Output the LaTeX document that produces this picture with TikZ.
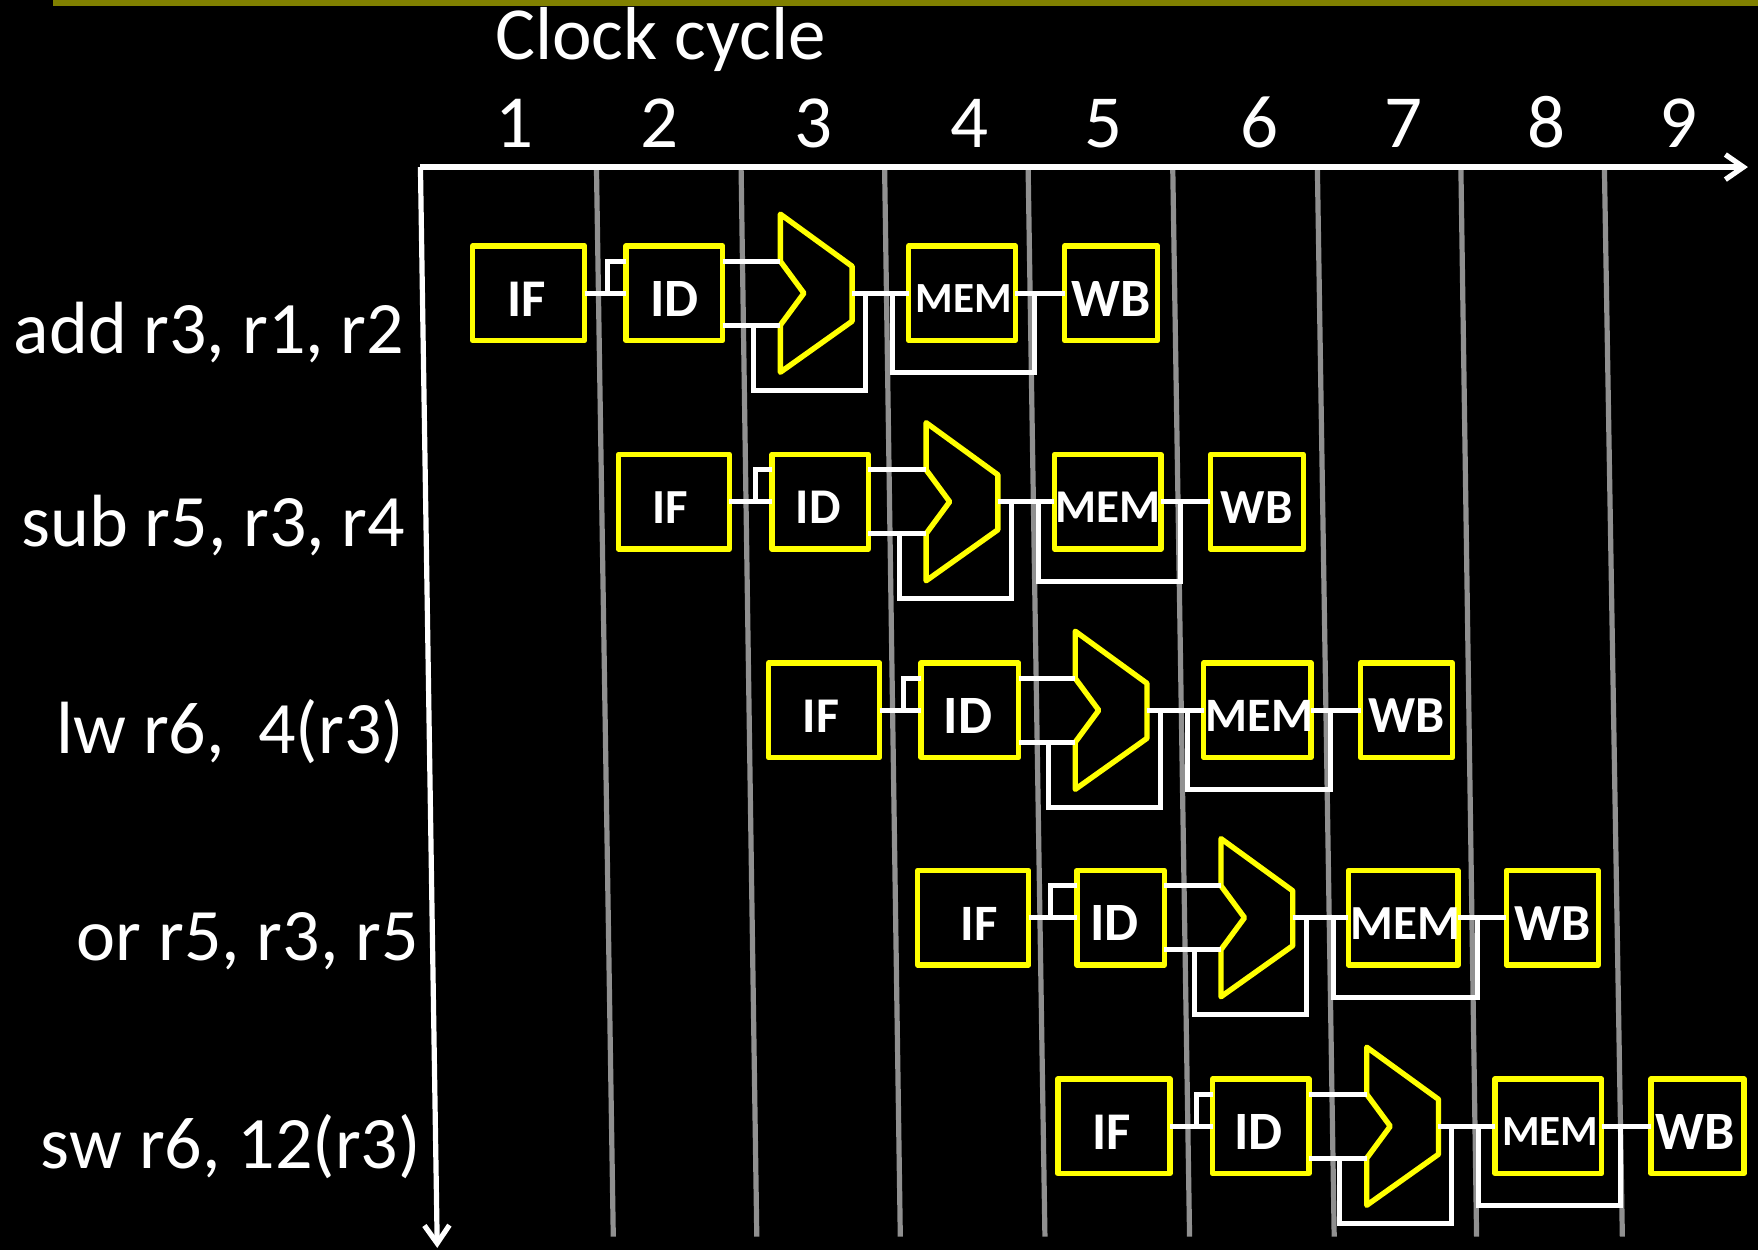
\documentclass[tikz,border=0pt]{standalone}
\usepackage{fontspec}
\setmainfont{Carlito}
\usetikzlibrary{arrows.meta,calc}
\definecolor{olivebar}{HTML}{808000}
\definecolor{gridgrey}{HTML}{909090}
\definecolor{pipeyellow}{HTML}{FFFF00}
\tikzset{
  stage/.style={draw=pipeyellow,line width=5.4pt,text=white,inner sep=0pt,outer sep=0pt,line join=round,font=\bfseries,minimum height=94.5pt},
  wire/.style={draw=white,line width=5pt,line join=miter},
  gridline/.style={draw=gridgrey,line width=5.2pt},
  axisline/.style={draw=white,line width=5.2pt,-{Straight Barb[length=18pt,width=25pt,line width=5.2pt]}},
  alushape/.style={draw=pipeyellow,line width=5.4pt,line join=round},
  bigtext/.style={text=white,font=\fontsize{75}{75}\selectfont,inner sep=0pt,anchor=base},
  instr/.style={text=white,font=\fontsize{74}{74}\selectfont,inner sep=0pt,anchor=base east},
}
\newcommand{\stagebox}[7]{%
  \node[stage,minimum width={(#3-#2-3)*1.1212pt}] (#1) at ({(#2+#3)/2},#4)
    {\fontsize{#6}{#6}\selectfont\raisebox{\dimexpr-0.32em-6pt\relax}[0pt][0pt]{\kern#5pt #7\kern-#5pt}};}
\begin{document}
\begin{tikzpicture}[x=1.1212pt,y=-1.1212pt]
\useasboundingbox[fill=black] (0,0) rectangle (1568,1115);
\fill[olivebar] (47,0) rectangle (1568,5.5);
% grid
\foreach \a/\b in {532/547,661/675,789/803,917/932,1046/1061,1175/1190,1303/1317,1431/1447}
  \draw[gridline] (\a,150) -- (\b,1103);
% axes
\coordinate (origin) at (375,149);
\coordinate (xend) at (1559,149);
\coordinate (yend) at (390,1113);
\draw[axisline] (origin) -- (xend);
\draw[axisline] (origin) -- (yend);
% titles
\node[bigtext] (title) at (589,53.5) {Clock cycle};
\foreach \n/\x in {1/459,2/588,3/726,4/865,5/984,6/1123,7/1252,8/1379,9/1497}
  \node[bigtext] (cyc\n) at (\x,131.5) {\n};
% instruction labels
\node[instr] (ins1) at (360.5,315) {add r3, r1, r2};
\node[instr] (ins2) at (361.5,487) {sub r5, r3, r4};
\node[instr] (ins3) at (360.5,672) {lw r6,\ \ 4(r3)};
\node[instr] (ins4) at (373.5,857) {or r5, r3, r5};
\node[instr] (ins5) at (375.5,1042) {sw r6, 12(r3)};
% pipeline rows
\foreach \r/\yc/\fa/\fb/\ga/\gb/\al/\ma/\mb/\wa/\wb/\sx/\sa/\sb/\sc/\sd/\da/\db/\dc/\dd in {
  1/261.5/420/523/557/646/696/809/907/948/1034/542/53/54/43/54/-2/0/2/0/,
  2/447.5/550/652/687/776/826/939/1037/1078/1164/674/49/50/47/49/-4/-2/0/0/,
  3/633.5/684/786/820/910/959/1073/1170/1212/1297/806/50/54/48/52/-3/-2/2/0/,
  4/818.5/817/919/959/1040/1089/1202/1301/1342/1427/937/51/54/49/52/6/-6/2/0/,
  5/1004.5/942/1045/1080/1169/1219/1332/1430/1471/1557/1067/53/54/43/54/-2/-2/2/-2/}{
  \stagebox{if\r}{\fa}{\fb}{\yc}{\da}{\sa}{IF}
  \stagebox{id\r}{\ga}{\gb}{\yc}{\db}{\sb}{ID}
  \stagebox{mem\r}{\ma}{\mb}{\yc}{\dc}{\sc}{MEM}
  \stagebox{wb\r}{\wa}{\wb}{\yc}{\dd}{\sd}{WB}
  % ALU outline
  \coordinate (alu\r-a) at ($(\al,\yc)+(0,-28.5)$);
  \coordinate (alu\r-b) at ($(\al,\yc)+(0,28.5)$);
  \coordinate (alu\r-o) at ($(\al,\yc)+(64,0)$);
  \draw[alushape] ($(\al,\yc)+(0,-70.5)$) -- ($(\al,\yc)+(64,-24)$) -- ($(\al,\yc)+(64,25)$)
     -- ($(\al,\yc)+(0,70.5)$) -- (alu\r-b) -- ($(\al,\yc)+(21,0)$) -- (alu\r-a) -- cycle;
  % IF to ID
  \draw[wire] (if\r.east) -- (id\r.west);
  \draw[wire] (\sx,\yc) |- ($(id\r.west)+(0,-28.5)$);
  % ID to ALU
  \draw[wire] (id\r.east |- alu\r-a) -- (alu\r-a);
  \draw[wire] (id\r.east |- alu\r-b) -- (alu\r-b);
  % ALU to MEM, MEM to WB
  \draw[wire] (alu\r-o) -- (mem\r.west);
  \draw[wire] (mem\r.east) -- (wb\r.west);
  % ALU bypass
  \draw[wire] ($(alu\r-b)+(-24,0)$) -- ++(0,58) -| ($(alu\r-o)+(12,0)$);
  % MEM bypass
  \draw[wire] ($(alu\r-o)+(36,0)$) -- ++(0,71) -| ($(mem\r.east)+(17,0)$);
}
\end{tikzpicture}
\end{document}
